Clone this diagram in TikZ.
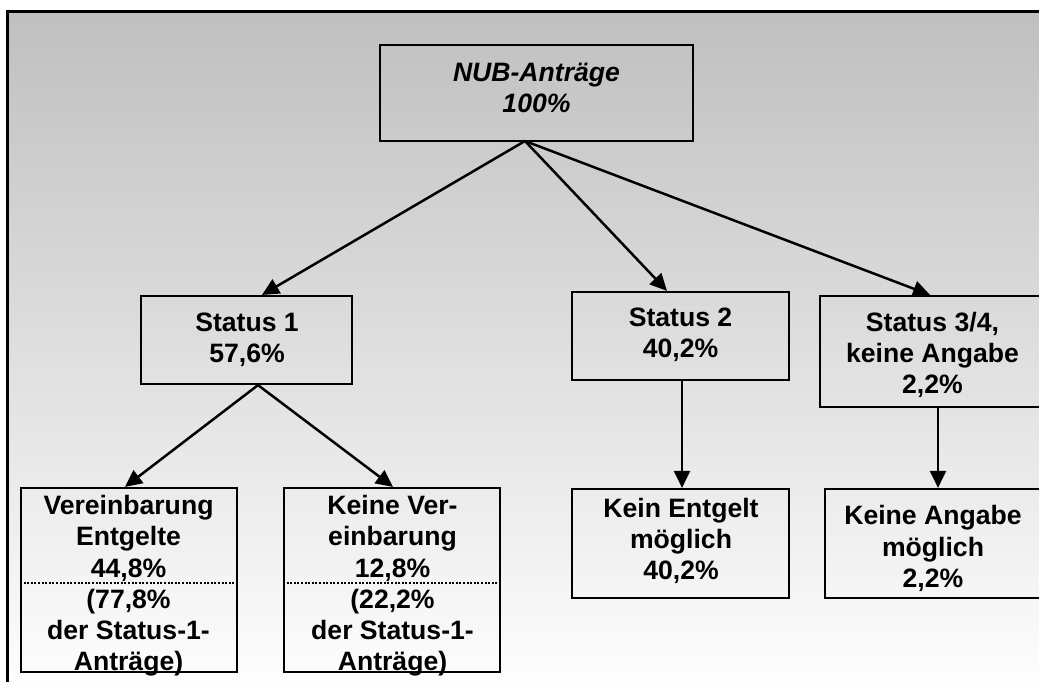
\documentclass[tikz,border=0pt]{standalone}
\usepackage{fontspec}
\setmainfont{Liberation Sans}
\usetikzlibrary{arrows.meta}
\begin{document}
\begin{tikzpicture}
  [x=1pt, y=-1pt,
   box/.style={draw, line width=2.2pt, inner sep=0pt},
   lbl/.style={anchor=north, inner sep=0pt, align=center,
     font=\fontsize{26.6}{31.3}\selectfont\bfseries},
   lbli/.style={lbl, font=\fontsize{26.6}{31.3}\selectfont\bfseries\itshape},
   arr/.style={line width=2.5pt, -{Triangle[length=17pt,width=16pt]}},
   sep/.style={line width=2pt, dash pattern=on 2pt off 1.6pt}]
  \useasboundingbox (0,0) rectangle (1039,681);
  \fill[white] (0,0) rectangle (1039,681);
  \shade[top color=black!25, middle color=black!14, bottom color=white] (7,11) rectangle (1050,700);
  \draw[line width=3pt] (7,700) -- (7,11) -- (1050,11);

  % top
  \node[box, minimum width=313, minimum height=96] (nub) at (536.5,93) {};
  \node[lbli] (nubtxt) at (536.5,63) {NUB-Anträge\\100\%};
  \coordinate (nubfoot) at (525,141);

  % status boxes
  \node[box, minimum width=211, minimum height=88] (s1) at (246.5,340) {};
  \node[lbl] (s1txt) at (247,312.7) {Status 1\\57,6\%};
  \node[box, minimum width=217, minimum height=88] (s2) at (680.5,336) {};
  \node[lbl] (s2txt) at (680.5,307.7) {Status 2\\40,2\%};
  \node[box, minimum width=225, minimum height=111] (s3) at (932.5,351.5) {};
  \node[lbl] (s3txt) at (932.5,311.7) {Status 3/4,\\keine Angabe\\2,2\%};

  % bottom row
  \node[box, minimum width=216, minimum height=184] (v1) at (129,580) {};
  \node[lbl] (v1txt) at (128.5,495) {Vereinbarung\\Entgelte\\44,8\%\\(77,8\%\\der Status-1-\\Anträge)};
  \node[box, minimum width=216, minimum height=184] (v2) at (392,580) {};
  \node[lbl] (v2txt) at (392.5,495) {Keine Ver-\\einbarung\\12,8\%\\(22,2\%\\der Status-1-\\Anträge)};
  \node[box, minimum width=217, minimum height=109] (k2) at (680.5,543.5) {};
  \node[lbl] (k2txt) at (681,497.7) {Kein Entgelt\\möglich\\40,2\%};
  \node[box, minimum width=216, minimum height=109] (k3) at (933,543.5) {};
  \node[lbl] (k3txt) at (933,505.3) {Keine Angabe\\möglich\\2,2\%};

  \draw[sep] (v1.west |- 0,583) -- (v1.east |- 0,583);
  \draw[sep] (v2.west |- 0,583) -- (v2.east |- 0,583);

  % arrows
  \draw[arr] (nubfoot) -- ([xshift=15.5pt]s1.north);
  \draw[arr] (nubfoot) -- ([xshift=-13.5pt]s2.north);
  \draw[arr] (nubfoot) -- ([xshift=-2.5pt]s3.north);
  \draw[arr] ([xshift=11.5pt]s1.south) -- ([xshift=-4pt]v1.north);
  \draw[arr] ([xshift=11.5pt]s1.south) -- ([xshift=1pt]v2.north);
  \draw[arr] ([xshift=1.5pt]s2.south) -- ([xshift=1.5pt]k2.north);
  \draw[arr] ([xshift=5.5pt]s3.south) -- ([xshift=5pt]k3.north);
\end{tikzpicture}
\end{document}
